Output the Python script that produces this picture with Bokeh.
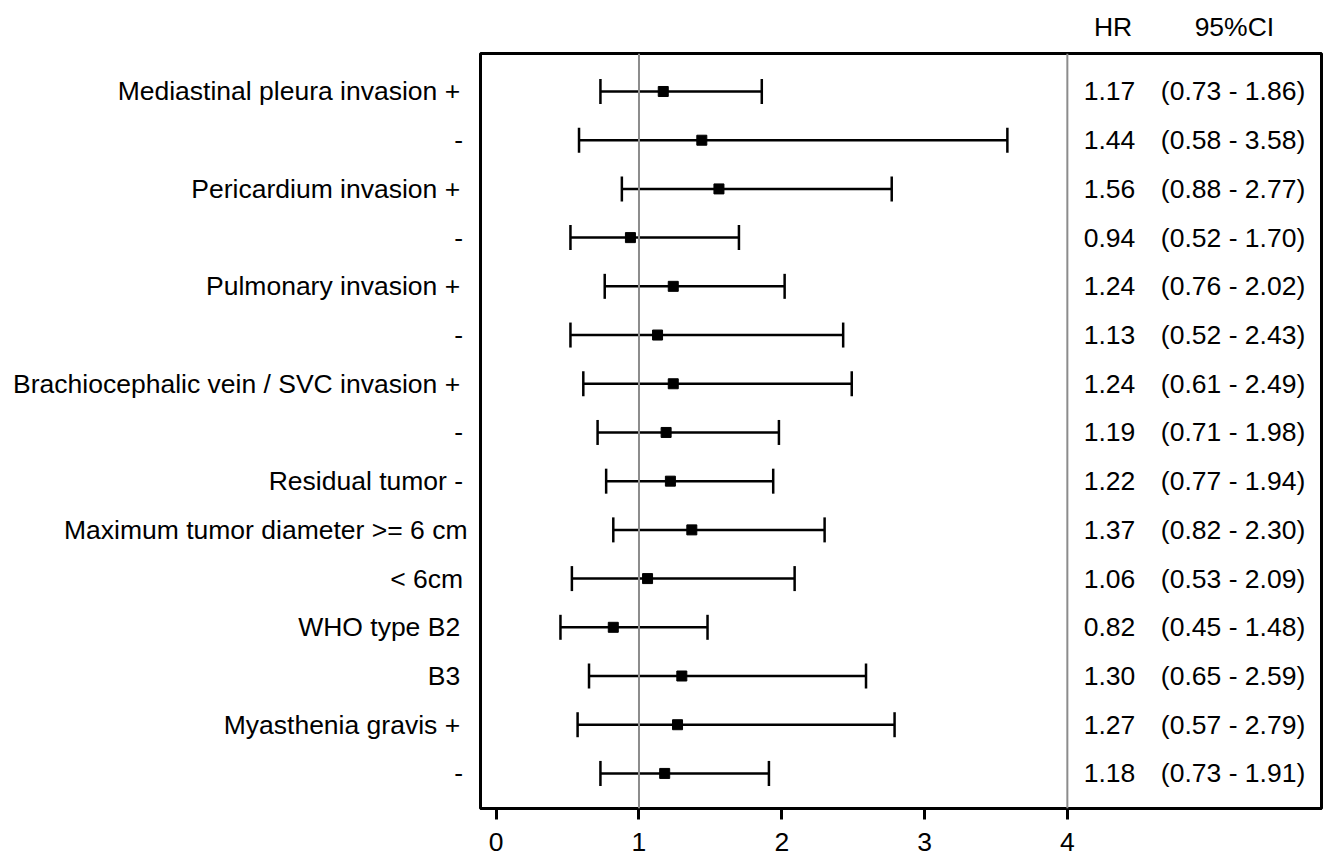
from bokeh.plotting import figure
from bokeh.models import (ColumnDataSource, Range1d, FixedTicker, Whisker, TeeHead,
                          Span, LinearAxis)
from bokeh.core.properties import value
from bokeh.embed import file_html
from bokeh.resources import INLINE

labels = [
    "Mediastinal pleura invasion +", "-",
    "Pericardium invasion +", "-",
    "Pulmonary invasion +", "-",
    "Brachiocephalic vein / SVC invasion +", "-",
    "Residual tumor -",
    "Maximum tumor diameter >= 6 cm", "< 6cm",
    "WHO type B2", "B3",
    "Myasthenia gravis +", "-",
]
hr = [1.17, 1.44, 1.56, 0.94, 1.24, 1.13, 1.24, 1.19, 1.22, 1.37, 1.06, 0.82, 1.30, 1.27, 1.18]
ci_low = [0.73, 0.58, 0.88, 0.52, 0.76, 0.52, 0.61, 0.71, 0.77, 0.82, 0.53, 0.45, 0.65, 0.57, 0.73]
ci_high = [1.86, 3.58, 2.77, 1.70, 2.02, 2.43, 2.49, 1.98, 1.94, 2.30, 2.09, 1.48, 2.59, 2.79, 1.91]
x_ticks = [0, 1, 2, 3, 4]
ref_lines = [1, 4]
headers = ["HR", "95%CI"]

FONT = "Liberation Sans"
FS = "26.5px"

n = len(labels)
rows = list(range(n, 0, -1))

src = ColumnDataSource(dict(
    y=rows, hr=hr, lo=ci_low, hi=ci_high,
    hr_txt=[f"{v:.2f}" for v in hr],
    ci_txt=[f"({a:.2f} - {b:.2f})" for a, b in zip(ci_low, ci_high)],
))

p = figure(width=1327, height=862,
           x_range=Range1d(-0.11, 5.78), y_range=Range1d(0.28, n + 0.78),
           output_backend="svg", toolbar_location=None,
           min_border_left=480, min_border_right=6,
           min_border_top=53, min_border_bottom=54)

p.xgrid.visible = False
p.ygrid.visible = False
p.outline_line_color = "black"
p.outline_line_width = 3
p.outline_line_alpha = 1.0

# x axis
xa = p.xaxis[0]
xa.ticker = FixedTicker(ticks=x_ticks)
xa.minor_tick_line_color = None
xa.major_tick_in = 0
xa.major_tick_out = 11
xa.major_tick_line_width = 3
xa.major_tick_line_color = "black"
xa.axis_line_color = "black"
xa.axis_line_width = 3
xa.major_label_text_font = FONT
xa.major_label_text_font_size = FS
xa.major_label_text_color = "black"
xa.major_label_standoff = 13

# y axis with row labels
def pad(s):
    if s.endswith("+") or s.endswith("B2") or s.endswith("B3"):
        return s + "\u00a0"
    if s.endswith("-") or s == "< 6cm":
        return s + "\u2006"
    return s

ya = p.yaxis[0]
ya.ticker = FixedTicker(ticks=rows)
ya.major_label_overrides = {r: pad(l) for r, l in zip(rows, labels)}
ya.minor_tick_line_color = None
ya.major_tick_line_color = None
ya.axis_line_color = None
ya.major_label_text_font = FONT
ya.major_label_text_font_size = FS
ya.major_label_text_color = "black"
ya.major_label_standoff = 7

# column headers as an axis above the frame
HR_X = 4.115
CI_X = 4.655
head_pos = [4.32, 5.17]
top = LinearAxis(ticker=FixedTicker(ticks=head_pos),
                 major_label_overrides={pos: h for pos, h in zip(head_pos, headers)})
top.axis_line_color = None
top.major_tick_line_color = None
top.minor_tick_line_color = None
top.major_label_text_font = FONT
top.major_label_text_font_size = FS
top.major_label_text_color = "black"
top.major_label_standoff = 6
p.add_layout(top, "above")

for loc in ref_lines:
    p.add_layout(Span(location=loc, dimension="height", line_color="#8c8c8c", line_width=2))

w = Whisker(source=src, base="y", lower="lo", upper="hi", dimension="width",
            line_color="black", line_width=2.5,
            lower_head=TeeHead(size=25, line_width=2.5, line_color="black"),
            upper_head=TeeHead(size=25, line_width=2.5, line_color="black"))
w.level = "glyph"
p.add_layout(w)

p.scatter(x="hr", y="y", source=src, marker="square", size=10,
          fill_color="black", line_color="black")

p.text(x=HR_X, y="y", text="hr_txt", source=src, text_font=value(FONT),
       text_font_size=FS, text_align="left", text_baseline="middle", text_color="black")
p.text(x=CI_X, y="y", text="ci_txt", source=src, text_font=value(FONT),
       text_font_size=FS, text_align="left", text_baseline="middle", text_color="black")

open("out.html", "w").write(file_html(p, INLINE))
